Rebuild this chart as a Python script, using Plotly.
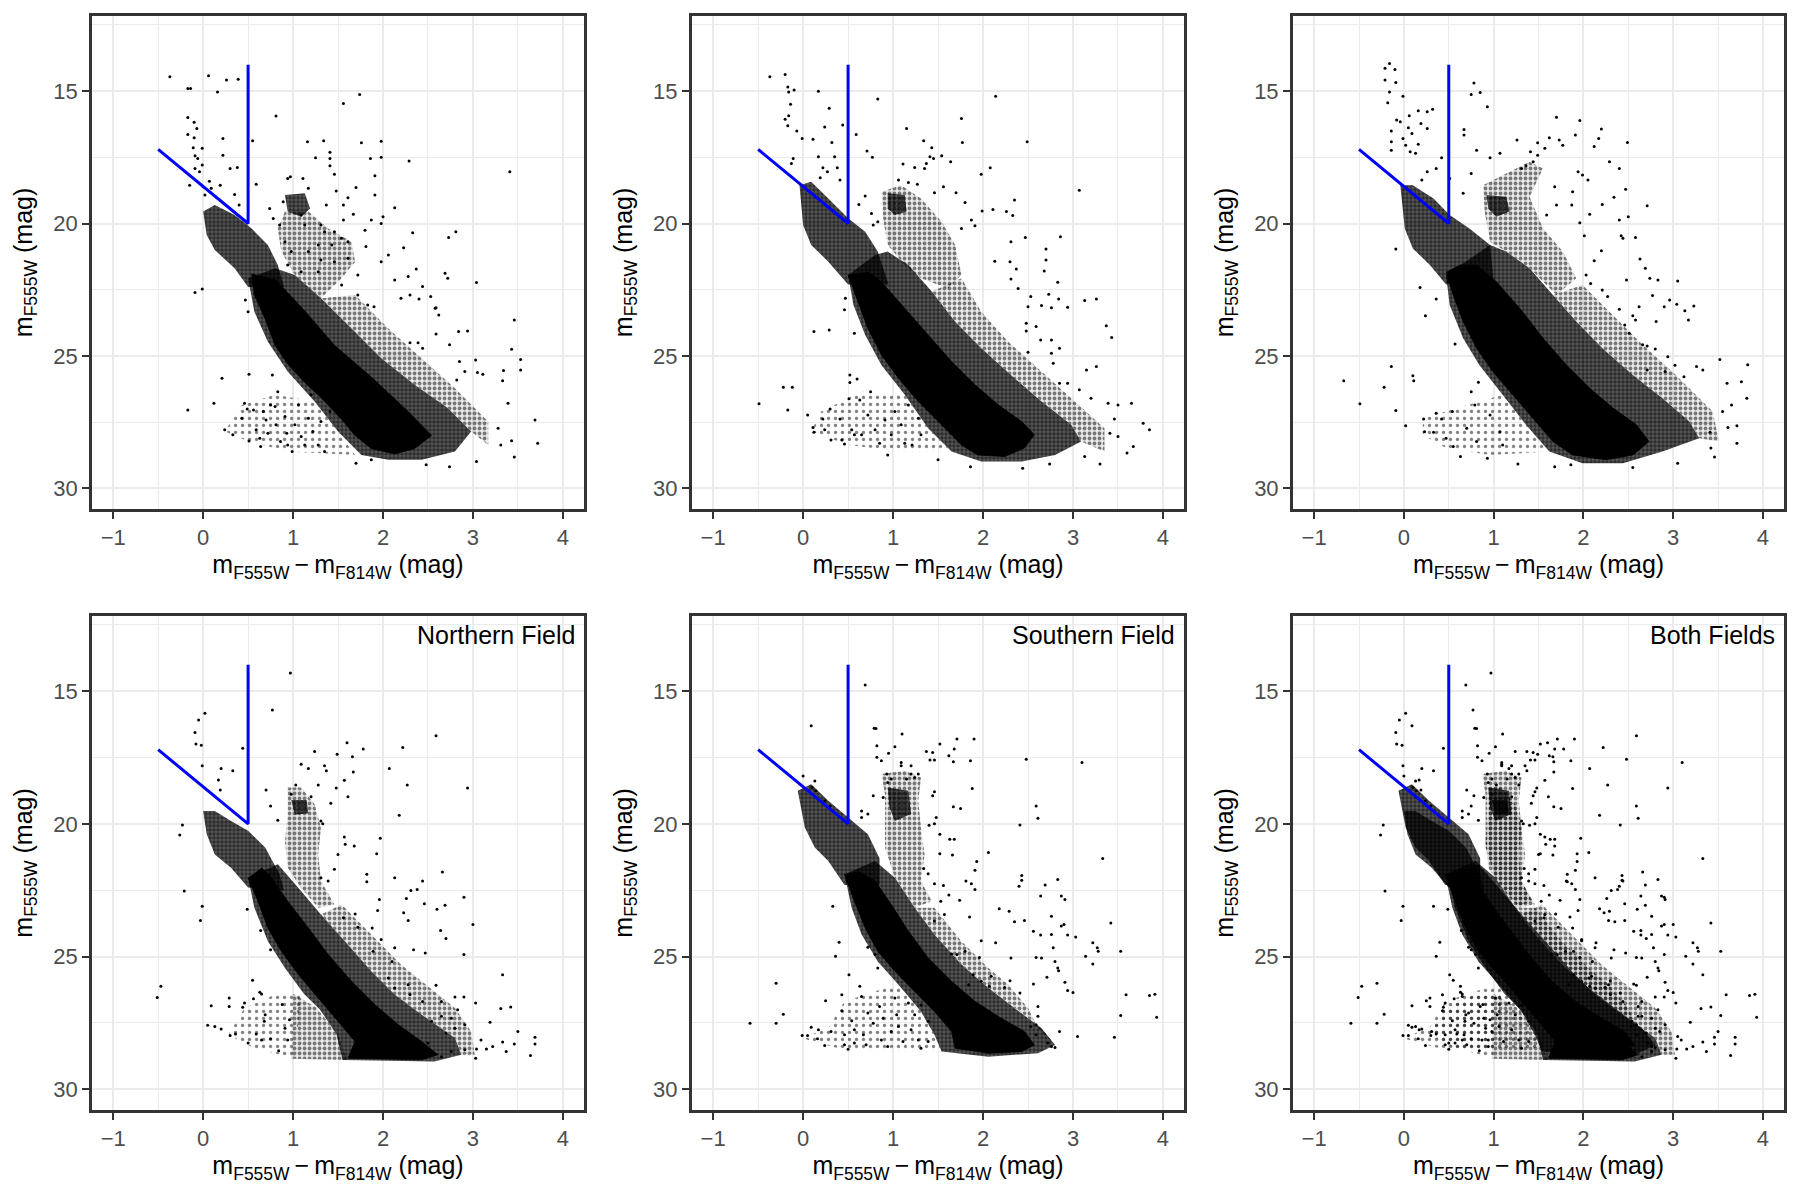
import plotly.graph_objects as go

# colour-magnitude diagrams, six panels (top row: three reductions, bottom: fields)
# dense regions are given as outlines (core = solid, mid/halo/faint = decreasing density),
# isolated stars as (colour, magnitude) pairs

BLUE_X = [-0.5, 0.5, 0.5]
BLUE_Y = [17.2, 20.0, 14.0]

LABELS = ["", "", "", "Northern Field", "Southern Field", "Both Fields"]

# ---------------- panel 1 ----------------
p1_core = [[(0.54, 21.9), (0.57, 22.7), (0.69, 23.6), (0.80, 24.6), (0.94, 25.3), (1.13, 26.0), (1.32, 26.6),
            (1.54, 27.4), (1.69, 28.0), (1.87, 28.5), (2.13, 28.7), (2.35, 28.5), (2.54, 28.0), (2.28, 27.1),
            (1.87, 25.8), (1.46, 24.6), (1.13, 23.3), (0.80, 22.1)]]
p1_mid = [[(0.0, 19.55), (0.13, 19.3), (0.35, 19.68), (0.54, 20.19), (0.72, 20.81), (0.83, 21.57), (0.9, 22.4),
           (0.5, 22.4), (0.35, 21.69), (0.13, 21.0), (0.04, 20.43)],
          [(0.5, 22.07), (0.57, 23.33), (0.72, 24.46), (0.94, 25.59), (1.24, 26.72), (1.5, 27.85), (1.76, 28.74),
           (2.06, 28.92), (2.43, 28.92), (2.8, 28.61), (2.98, 27.85), (2.72, 26.97), (2.35, 26.09), (1.98, 25.09),
           (1.65, 23.96), (1.31, 22.82), (1.02, 21.94), (0.8, 21.69)],
          [(0.91, 18.92), (1.13, 18.86), (1.19, 19.43), (1.09, 19.74), (0.94, 19.55)]]
p1_halo = [[(0.91, 19.55), (1.17, 19.55), (1.39, 20.19), (1.65, 20.69), (1.69, 21.44), (1.54, 22.07), (1.31, 22.82),
            (1.02, 21.94), (0.87, 21.06), (0.83, 20.19)],
           [(1.31, 22.82), (1.69, 22.7), (2.06, 23.96), (2.43, 25.09), (2.8, 26.22), (3.17, 27.48), (3.17, 28.36),
            (2.98, 27.85), (2.72, 26.97), (2.35, 26.09), (1.98, 25.09), (1.65, 23.96)]]
p1_faint = [[(0.43, 26.85), (0.8, 26.47), (1.24, 26.72), (1.5, 27.85), (1.69, 28.74), (0.94, 28.61), (0.51, 28.23),
             (0.24, 27.85)]]
p1_stars = [
    (-0.37, 14.46), (-0.17, 14.9), (-0.14, 14.9), (0.06, 14.42), (0.16, 15.03), (0.26, 14.58), (0.39, 14.55),
    (0.81, 15.94), (1.56, 15.47), (1.74, 15.13), (-0.17, 16.0), (-0.1, 16.18), (-0.07, 16.41), (-0.17, 16.64),
    (-0.1, 16.76), (-0.11, 17.14), (-0.01, 17.16), (-0.09, 17.44), (-0.06, 17.54), (-0.01, 17.79), (-0.09, 17.92),
    (-0.04, 18.04), (-0.15, 18.55), (0.0, 18.61), (0.07, 18.4), (0.22, 16.79), (0.22, 17.42), (0.3, 17.92),
    (0.38, 17.88), (0.35, 18.9), (0.4, 19.3), (0.55, 16.87), (0.59, 18.52), (0.19, 18.55), (0.02, 18.92),
    (0.09, 18.67), (1.16, 16.91), (1.34, 16.87), (1.41, 17.31), (1.41, 17.54), (1.41, 17.82), (1.46, 18.14),
    (1.25, 17.52), (1.76, 16.95), (1.98, 16.89), (1.98, 17.5), (1.86, 17.54), (2.29, 17.64), (1.91, 18.2),
    (1.91, 18.92), (1.7, 18.64), (1.48, 18.77), (1.61, 19.03), (1.56, 19.3), (1.37, 19.3), (1.67, 19.65),
    (1.56, 19.87), (2.13, 19.4), (2.0, 19.74), (1.87, 19.87), (1.98, 20.0), (1.8, 20.25), (2.33, 20.35),
    (2.81, 20.31), (2.73, 20.53), (3.41, 18.04), (2.23, 20.91), (2.06, 21.19), (2.37, 21.72), (2.28, 22.0),
    (2.69, 21.88), (2.72, 22.07), (3.04, 22.23), (2.13, 22.13), (2.44, 22.38), (2.2, 22.82), (2.3, 22.7),
    (2.4, 22.85), (2.53, 22.76), (2.58, 23.2), (2.59, 23.18), (2.62, 23.45), (3.46, 23.64), (2.84, 24.08),
    (2.94, 24.06), (2.3, 24.5), (2.39, 24.5), (2.44, 24.71), (2.74, 24.58), (2.59, 24.17), (3.43, 24.75),
    (3.53, 25.13), (3.53, 25.53), (3.34, 25.55), (3.33, 25.94), (3.03, 25.15), (2.85, 25.21), (2.91, 25.59),
    (3.05, 25.63), (3.11, 25.69), (2.82, 25.91), (3.39, 26.79), (3.69, 27.42), (3.72, 28.3), (3.46, 28.82),
    (3.43, 28.2), (3.31, 28.36), (3.28, 27.73), (3.04, 28.99), (2.74, 29.18), (2.48, 29.11), (1.7, 29.05),
    (1.87, 28.92), (-0.09, 22.6), (-0.01, 22.47), (-0.17, 27.04), (0.12, 26.79), (0.21, 25.84), (0.51, 25.69),
    (0.47, 22.89), (0.5, 23.33), (0.77, 25.72), (0.24, 27.79), (0.33, 27.98), (0.43, 27.35), (0.46, 26.79),
    (0.49, 27.0), (0.51, 28.21), (0.56, 27.04), (0.59, 27.79), (0.63, 28.11), (0.64, 28.42), (0.67, 27.1),
    (0.7, 27.42), (0.72, 27.92), (0.8, 26.91), (0.81, 27.6), (0.86, 28.23), (0.91, 27.29), (0.93, 27.92),
    (0.94, 28.36), (0.99, 28.61), (1.02, 27.6), (1.06, 26.85), (1.09, 28.04), (1.13, 28.36), (1.17, 27.35),
    (1.2, 26.47), (1.22, 27.85), (1.28, 28.36), (1.31, 27.48), (1.35, 28.61), (1.41, 27.1), (0.83, 26.35),
    (0.75, 26.85), (0.94, 18.3), (0.97, 18.23), (1.11, 18.3), (1.17, 18.67), (0.89, 19.18), (1.09, 19.68),
    (1.13, 20.06), (1.31, 20.06), (1.35, 20.31), (1.46, 20.31), (1.54, 20.56), (1.61, 20.69), (1.43, 20.81),
    (1.28, 20.81), (1.17, 21.06), (0.98, 21.06), (0.94, 21.57), (1.09, 21.82), (1.28, 21.82), (1.31, 21.38),
    (1.46, 21.44), (1.61, 21.31), (1.72, 21.94), (1.54, 22.32), (1.72, 22.7), (1.83, 23.08), (1.9, 23.14),
    (1.98, 21.44), (1.81, 20.87), (0.85, 20.06), (0.91, 20.69), (0.74, 19.43), (0.78, 19.81)]

# ---------------- panel 2 ----------------
p2_core = [[(0.50, 21.94), (0.61, 22.95), (0.72, 23.96), (0.87, 24.96), (1.06, 25.84), (1.28, 26.72), (1.54, 27.6),
            (1.76, 28.36), (1.94, 28.74), (2.24, 28.8), (2.46, 28.48), (2.57, 27.98), (2.43, 27.48), (2.17, 26.85),
            (1.91, 26.09), (1.65, 25.21), (1.39, 24.21), (1.13, 23.2), (0.87, 22.2), (0.72, 21.82)]]
p2_mid = [[(-0.04, 18.55), (0.09, 18.42), (0.28, 19.05), (0.5, 19.8), (0.69, 20.31), (0.83, 21.06), (0.95, 22.3),
           (0.5, 22.3), (0.28, 21.44), (0.09, 20.81), (0.0, 20.06)],
          [(0.5, 21.94), (0.56, 23.08), (0.69, 24.21), (0.87, 25.34), (1.13, 26.47), (1.39, 27.73), (1.65, 28.61),
           (1.98, 28.99), (2.43, 28.99), (2.8, 28.74), (3.09, 28.23), (2.98, 27.6), (2.65, 26.72), (2.31, 25.72),
           (1.98, 24.71), (1.69, 23.71), (1.43, 22.57), (1.17, 21.57), (0.94, 21.06), (0.8, 21.19)],
          [(0.94, 18.86), (1.13, 18.92), (1.15, 19.55), (1.02, 19.68), (0.94, 19.43)]]
p2_halo = [[(0.87, 18.8), (1.09, 18.55), (1.31, 19.05), (1.54, 19.93), (1.69, 20.81), (1.76, 21.94), (1.61, 22.45),
            (1.31, 22.07), (1.13, 21.57), (0.94, 20.81), (0.89, 19.8)],
           [(1.43, 22.57), (1.76, 22.07), (1.98, 23.33), (2.28, 24.46), (2.65, 25.59), (2.98, 26.6), (3.35, 27.73),
            (3.35, 28.61), (3.09, 28.23), (2.98, 27.6), (2.65, 26.72), (2.31, 25.72), (1.98, 24.71), (1.69, 23.71)]]
p2_faint = [[(0.2, 27.1), (0.65, 26.35), (1.13, 26.47), (1.39, 27.73), (1.65, 28.61), (1.09, 28.61), (0.5, 28.36),
             (0.09, 27.85)]]
p2_stars = [
    (-0.37, 14.46), (-0.2, 14.37), (-0.17, 14.84), (-0.1, 14.96), (-0.16, 15.03), (0.17, 15.0), (0.29, 15.65),
    (0.83, 15.3), (-0.14, 15.5), (-0.16, 15.93), (-0.2, 16.06), (-0.17, 16.31), (0.24, 16.35), (0.44, 16.28),
    (0.59, 16.64), (-0.07, 16.51), (-0.01, 16.79), (0.11, 16.82), (0.32, 16.94), (0.17, 17.48), (0.35, 17.48),
    (-0.11, 17.54), (-0.13, 17.73), (0.38, 17.89), (0.22, 17.89), (0.27, 18.04), (0.19, 18.27), (0.41, 18.36),
    (0.71, 17.26), (0.77, 17.5), (1.15, 16.41), (1.34, 16.87), (1.43, 17.14), (1.41, 17.48), (1.45, 17.54),
    (1.37, 17.73), (1.35, 17.92), (1.54, 17.44), (1.64, 17.67), (1.76, 16.03), (1.77, 16.94), (2.14, 15.19),
    (2.49, 16.91), (1.98, 18.14), (2.08, 17.89), (1.11, 17.75), (1.24, 17.88), (1.06, 18.36), (1.17, 18.45),
    (1.27, 18.52), (1.56, 18.61), (1.7, 18.84), (1.46, 18.84), (3.07, 18.74), (2.35, 19.11), (2.26, 19.55),
    (2.33, 19.7), (1.99, 19.53), (2.11, 19.47), (1.8, 19.21), (1.87, 19.87), (1.91, 20.08), (1.76, 20.19),
    (2.86, 20.5), (2.47, 20.53), (2.31, 20.69), (0.62, 19.28), (0.69, 18.96), (0.76, 19.62), (0.78, 20.06),
    (0.83, 19.93), (2.7, 20.96), (2.7, 21.38), (2.68, 21.79), (2.13, 21.42), (2.3, 21.44), (2.37, 21.72),
    (2.31, 22.09), (2.83, 22.22), (2.73, 22.67), (2.84, 22.85), (2.94, 23.16), (3.13, 22.91), (3.26, 22.85),
    (2.53, 22.76), (2.65, 23.1), (2.76, 23.18), (2.5, 23.14), (2.39, 22.45), (2.48, 23.77), (2.59, 23.89),
    (2.48, 24.06), (3.37, 23.86), (3.43, 24.3), (2.64, 24.4), (2.76, 24.4), (2.85, 24.71), (2.76, 24.9),
    (2.5, 24.86), (2.78, 25.28), (3.15, 25.53), (3.26, 25.4), (2.85, 26.03), (2.94, 26.03), (3.07, 26.28),
    (3.2, 26.6), (3.39, 26.79), (3.5, 26.85), (3.65, 26.79), (3.46, 27.38), (3.41, 27.92), (3.5, 28.04),
    (3.67, 28.42), (3.78, 27.54), (3.85, 27.79), (3.6, 28.67), (3.3, 29.08), (3.13, 28.8), (2.74, 29.08),
    (2.44, 29.24), (1.86, 29.18), (1.5, 28.92), (-0.49, 26.81), (-0.22, 26.18), (-0.12, 26.18), (-0.17, 27.04),
    (0.12, 24.08), (0.29, 24.02), (0.46, 23.26), (0.57, 24.14), (0.47, 22.82), (0.05, 27.23), (0.11, 27.7),
    (0.12, 27.88), (0.52, 25.72), (0.6, 25.87), (0.52, 26.0), (0.22, 27.38), (0.24, 27.79), (0.3, 27.0),
    (0.31, 28.17), (0.41, 27.38), (0.43, 28.17), (0.46, 28.33), (0.51, 26.62), (0.54, 27.79), (0.57, 27.98),
    (0.63, 26.66), (0.65, 27.98), (0.72, 27.23), (0.75, 26.35), (0.8, 27.79), (0.85, 28.3), (0.91, 27.42),
    (0.94, 28.74), (0.98, 27.98), (1.02, 27.1), (1.09, 27.6), (1.13, 28.3), (1.17, 26.85), (1.21, 28.36),
    (1.28, 27.35), (1.31, 27.98)]

# ---------------- panel 3 ----------------
p3_core = [[(0.47, 21.83), (0.55, 22.7), (0.66, 23.7), (0.81, 24.71), (0.99, 25.59), (1.21, 26.47), (1.44, 27.35),
            (1.66, 28.23), (1.88, 28.74), (2.25, 28.92), (2.55, 28.74), (2.73, 28.23), (2.59, 27.6), (2.33, 26.97),
            (2.07, 26.22), (1.81, 25.34), (1.55, 24.33), (1.29, 23.2), (1.03, 22.2), (0.81, 21.57), (0.62, 21.57)]]
p3_mid = [[(-0.04, 18.55), (0.1, 18.55), (0.33, 19.05), (0.51, 19.68), (0.73, 20.19), (0.96, 20.81), (1.0, 22.2),
           (0.47, 22.3), (0.29, 21.57), (0.1, 20.94), (0.01, 20.19)],
          [(0.47, 21.94), (0.51, 23.08), (0.66, 24.33), (0.84, 25.34), (1.1, 26.47), (1.36, 27.6), (1.62, 28.61),
           (1.99, 29.05), (2.44, 29.05), (2.88, 28.61), (3.29, 28.11), (3.18, 27.48), (2.88, 26.6), (2.55, 25.72),
           (2.21, 24.71), (1.92, 23.7), (1.66, 22.7), (1.4, 21.69), (1.14, 21.06), (0.96, 20.81)],
          [(0.92, 18.92), (1.14, 18.99), (1.18, 19.55), (1.03, 19.74), (0.94, 19.43)]]
p3_halo = [[(0.88, 18.55), (1.1, 18.17), (1.4, 17.67), (1.55, 17.92), (1.4, 18.99), (1.55, 20.19), (1.77, 21.06),
            (1.92, 22.07), (1.7, 22.7), (1.4, 21.69), (1.14, 21.06), (0.96, 20.69), (0.9, 19.55)],
           [(1.66, 22.7), (1.99, 22.32), (2.29, 23.33), (2.66, 24.58), (3.03, 25.72), (3.44, 27.1), (3.51, 28.23),
            (3.29, 28.11), (3.18, 27.48), (2.88, 26.6), (2.55, 25.72), (2.21, 24.71), (1.92, 23.7)]]
p3_faint = [[(0.21, 27.35), (0.59, 26.97), (1.1, 26.47), (1.36, 27.6), (1.62, 28.61), (0.96, 28.74), (0.47, 28.48),
             (0.21, 27.98)]]
p3_stars = [
    (-0.16, 13.96), (-0.21, 14.14), (-0.1, 14.18), (-0.21, 14.58), (-0.09, 14.67), (-0.16, 15.03), (-0.18, 15.44),
    (-0.01, 15.19), (0.78, 14.69), (0.75, 15.13), (0.85, 15.05), (0.93, 15.59), (0.16, 15.74), (0.26, 15.78),
    (0.32, 15.68), (0.06, 15.93), (-0.08, 16.09), (-0.14, 16.51), (-0.04, 16.16), (0.05, 16.38), (0.19, 16.22),
    (0.26, 16.41), (0.09, 16.6), (-0.01, 16.79), (0.02, 17.04), (0.16, 17.01), (0.07, 17.29), (0.13, 17.35),
    (-0.14, 16.91), (-0.14, 17.23), (0.67, 16.45), (0.67, 16.66), (0.81, 17.23), (0.42, 17.52), (0.51, 18.3),
    (0.36, 17.92), (0.26, 18.04), (0.2, 18.36), (0.75, 18.11), (0.66, 18.86), (-0.09, 20.96), (0.18, 22.42),
    (0.36, 22.85), (0.24, 23.48), (0.57, 24.55), (-0.14, 25.4), (-0.22, 26.18), (-0.67, 25.94), (-0.49, 26.81),
    (-0.09, 27.06), (0.1, 25.75), (0.11, 25.94), (0.02, 27.64), (0.23, 27.86), (0.33, 27.88), (0.22, 27.38),
    (0.36, 27.16), (0.42, 27.38), (0.54, 27.1), (0.47, 28.11), (0.55, 28.42), (0.63, 28.8), (0.7, 27.73),
    (0.75, 26.35), (0.83, 25.99), (0.79, 26.85), (0.81, 28.23), (0.93, 28.86), (0.96, 27.23), (1.07, 27.86),
    (1.1, 28.36), (1.27, 29.08), (1.68, 29.18), (1.86, 29.11), (2.55, 29.21), (3.05, 29.05), (3.46, 28.82),
    (3.42, 28.48), (3.41, 27.88), (3.71, 28.3), (3.61, 27.7), (3.55, 27.1), (3.71, 27.64), (3.65, 26.85),
    (3.82, 26.6), (3.76, 25.97), (3.83, 25.33), (3.6, 26.03), (3.52, 25.13), (3.33, 25.53), (3.26, 25.4),
    (3.12, 25.79), (3.02, 25.35), (2.94, 25.03), (2.8, 24.74), (2.71, 25.53), (2.91, 25.59), (2.81, 23.7),
    (3.17, 23.64), (3.13, 23.29), (3.23, 23.11), (3.04, 23.05), (2.96, 22.89), (2.9, 23.14), (2.77, 22.72),
    (3.05, 22.17), (2.83, 22.13), (2.74, 22.07), (2.69, 21.69), (2.63, 21.34), (2.58, 20.53), (2.48, 22.13),
    (2.55, 23.48), (2.62, 23.14), (2.58, 23.64), (2.51, 24.14), (2.46, 23.83), (2.4, 23.24), (2.71, 19.33),
    (2.5, 19.74), (2.4, 19.87), (2.47, 18.71), (2.34, 19.01), (2.4, 17.92), (2.29, 17.67), (2.49, 16.94),
    (2.2, 16.43), (2.17, 16.79), (2.12, 17.09), (1.96, 16.11), (1.91, 16.66), (1.7, 15.99), (1.73, 16.85),
    (1.77, 17.04), (1.62, 16.76), (1.49, 16.95), (1.26, 16.85), (1.57, 17.16), (1.41, 17.29), (1.49, 17.42),
    (1.44, 17.67), (1.36, 17.82), (1.31, 17.92), (1.07, 17.35), (0.96, 17.52), (1.94, 18.04), (1.99, 18.17),
    (2.05, 18.36), (2.21, 19.28), (1.87, 19.3), (1.88, 18.8), (1.68, 18.61), (1.7, 19.3), (1.59, 19.68),
    (1.96, 19.97), (2.07, 19.65), (2.01, 20.46), (2.2, 21.03), (2.12, 21.41), (2.42, 20.46), (2.44, 20.56),
    (2.03, 21.94), (2.08, 22.26), (2.21, 22.51), (2.27, 22.76), (2.66, 24.58), (2.71, 24.62)]

# ---------------- panel 4: Northern Field ----------------
p4_core = [[(0.5, 22.03), (0.61, 22.91), (0.72, 23.92), (0.87, 24.8), (1.06, 25.68), (1.28, 26.56), (1.5, 27.44),
            (1.69, 28.2), (1.61, 28.83), (2.43, 28.89), (2.61, 28.7), (2.43, 28.2), (2.17, 27.57), (1.91, 26.81),
            (1.65, 25.93), (1.39, 24.92), (1.17, 23.92), (0.94, 22.91), (0.76, 22.03), (0.65, 21.65)]]
p4_mid = [[(0.0, 19.51), (0.13, 19.51), (0.31, 19.89), (0.5, 20.26), (0.69, 20.89), (0.85, 21.9), (0.9, 22.5),
           (0.5, 22.4), (0.31, 21.65), (0.13, 21.15), (0.04, 20.39)],
          [(0.5, 22.03), (0.57, 23.16), (0.72, 24.42), (0.91, 25.43), (1.12, 26.4), (1.3, 27.0), (1.48, 27.9),
           (1.55, 28.9), (2.57, 28.95), (2.87, 28.7), (2.8, 28.07), (2.43, 27.19), (2.13, 26.43), (1.87, 25.55),
           (1.61, 24.55), (1.31, 23.41), (1.06, 22.41), (0.83, 21.52)],
          [(0.98, 19.1), (1.15, 19.1), (1.17, 19.6), (1.02, 19.65)]]
p4_halo = [[(0.94, 18.63), (1.09, 18.63), (1.24, 19.26), (1.31, 20.14), (1.28, 21.15), (1.31, 22.15), (1.46, 23.04),
            (1.28, 23.16), (1.09, 22.41), (0.94, 21.65), (0.91, 20.64), (0.94, 19.63)],
           [(1.31, 23.41), (1.54, 23.04), (1.87, 24.17), (2.2, 25.3), (2.43, 25.93), (2.8, 26.94), (2.98, 27.82),
            (3.02, 28.7), (2.87, 28.7), (2.8, 28.07), (2.43, 27.19), (2.13, 26.43), (1.87, 25.55), (1.61, 24.55)],
           [(1.0, 26.4), (1.25, 26.9), (1.5, 27.9), (1.6, 28.9), (0.98, 28.85), (1.0, 27.2)]]
p4_faint = [[(0.46, 26.94), (0.8, 26.43), (1.09, 26.43), (1.02, 28.83), (0.57, 28.45), (0.28, 27.95)]]
p4_stars = [
    (0.97, 14.31), (0.77, 15.71), (0.02, 15.83), (-0.05, 16.08), (-0.09, 16.55), (-0.08, 16.99), (-0.02, 17.03),
    (0.44, 17.15), (-0.01, 17.81), (0.2, 17.91), (0.33, 18.0), (0.17, 18.34), (0.19, 18.72), (0.7, 18.72),
    (0.75, 19.32), (0.83, 19.86), (2.59, 16.68), (2.22, 17.12), (1.78, 17.18), (1.6, 16.94), (1.49, 17.37),
    (1.66, 17.47), (1.24, 17.27), (2.07, 17.91), (2.27, 18.53), (2.94, 18.65), (2.18, 19.67), (1.67, 18.04),
    (1.57, 18.35), (1.48, 18.65), (1.61, 18.98), (1.42, 19.22), (1.09, 17.75), (1.17, 17.91), (1.35, 17.81),
    (1.37, 18.0), (1.28, 18.53), (1.03, 18.53), (0.98, 18.88), (1.2, 18.98), (1.31, 19.89), (1.33, 19.99),
    (1.97, 20.54), (1.57, 20.49), (1.68, 20.83), (1.58, 20.77), (1.93, 21.12), (1.5, 21.15), (1.46, 21.71),
    (1.31, 22.03), (1.39, 22.15), (1.82, 21.9), (1.82, 22.18), (2.13, 22.03), (2.66, 21.81), (2.44, 22.15),
    (2.31, 22.51), (2.38, 22.47), (2.26, 22.81), (1.96, 22.85), (2.9, 22.76), (2.6, 23.22), (2.69, 23.06),
    (2.23, 23.35), (2.28, 23.64), (2.46, 23.01), (1.94, 23.26), (1.69, 23.39), (1.56, 23.54), (1.88, 23.92),
    (1.72, 23.89), (2.64, 24.02), (2.7, 24.32), (3.0, 23.79), (2.9, 24.92), (2.47, 24.86), (2.34, 24.74),
    (2.13, 24.67), (1.98, 24.36), (1.89, 24.8), (2.1, 25.18), (3.33, 25.68), (3.03, 26.75), (3.31, 26.96),
    (3.42, 26.9), (3.5, 27.82), (3.46, 28.29), (3.69, 28.04), (3.69, 28.29), (3.64, 28.73), (3.33, 28.22),
    (3.37, 28.58), (3.22, 28.39), (3.15, 28.48), (3.04, 28.48), (3.03, 28.83), (3.09, 28.14), (3.19, 27.47),
    (2.59, 26.08), (2.65, 26.69), (2.8, 26.52), (2.9, 26.52), (2.83, 27.0), (2.76, 27.32), (2.91, 27.57),
    (2.8, 27.7), (2.7, 27.88), (2.65, 27.25), (2.54, 27.44), (2.44, 26.69), (2.3, 26.43), (2.28, 26.06),
    (2.13, 26.18), (2.06, 25.81), (2.5, 28.26), (2.65, 28.77), (2.76, 28.58), (2.91, 28.51), (-0.23, 20.04),
    (-0.26, 20.42), (-0.21, 22.53), (-0.01, 23.1), (-0.03, 23.64), (0.49, 23.22), (0.64, 24.02), (0.75, 24.74),
    (-0.47, 26.12), (-0.51, 26.54), (0.09, 26.85), (0.05, 27.59), (0.13, 27.63), (0.2, 27.73), (0.29, 26.56),
    (0.29, 26.88), (0.3, 27.97), (0.36, 27.92), (0.44, 26.91), (0.46, 26.75), (0.56, 26.59), (0.55, 25.89),
    (0.63, 26.34), (0.65, 26.41), (0.68, 27.44), (0.69, 27.19), (0.5, 28.26), (0.59, 27.92), (0.65, 28.14),
    (0.75, 28.1), (0.84, 28.55), (0.88, 26.81), (0.91, 27.7), (0.94, 28.14), (0.96, 27.38)]

# ---------------- panel 5: Southern Field ----------------
p5_core = [[(0.46, 21.9), (0.57, 22.91), (0.69, 23.92), (0.83, 24.8), (1.02, 25.55), (1.24, 26.31), (1.46, 27.07),
            (1.65, 27.82), (1.69, 28.45), (2.06, 28.64), (2.43, 28.58), (2.57, 28.33), (2.46, 27.82), (2.2, 27.32),
            (1.91, 26.69), (1.65, 25.93), (1.39, 25.05), (1.17, 24.04), (0.98, 23.04), (0.8, 22.15), (0.61, 21.78)]]
p5_mid = [[(-0.06, 18.75), (0.09, 18.5), (0.28, 19.13), (0.5, 19.76), (0.72, 20.39), (0.85, 21.3), (0.85, 22.3),
           (0.46, 22.3), (0.28, 21.4), (0.13, 20.89), (0.02, 20.14)],
          [(0.46, 21.9), (0.54, 23.16), (0.65, 24.17), (0.83, 25.18), (1.06, 26.06), (1.31, 27.07), (1.46, 27.95),
           (1.54, 28.58), (2.06, 28.77), (2.61, 28.64), (2.8, 28.33), (2.65, 27.7), (2.35, 26.94), (2.06, 26.18),
           (1.76, 25.3), (1.46, 24.17), (1.24, 23.16), (1.02, 22.03), (0.8, 21.4)],
          [(0.94, 18.63), (1.17, 18.75), (1.2, 19.63), (1.02, 19.89), (0.96, 19.38)]]
p5_halo = [[(0.87, 18.12), (1.13, 18.0), (1.31, 18.25), (1.28, 19.13), (1.31, 20.14), (1.35, 21.15), (1.31, 22.15),
            (1.43, 22.91), (1.24, 23.16), (1.02, 22.03), (0.91, 20.89), (0.91, 19.89), (0.91, 18.88)],
           [(1.24, 23.16), (1.46, 23.16), (1.76, 24.42), (2.06, 25.43), (2.28, 26.06), (2.5, 26.94), (2.61, 27.7),
            (2.8, 28.33), (2.65, 27.7), (2.35, 26.94), (2.06, 26.18), (1.76, 25.3), (1.46, 24.17)]]
p5_faint = [[(0.28, 27.7), (0.46, 26.69), (0.8, 26.31), (1.06, 26.06), (1.31, 27.07), (1.46, 27.95), (1.54, 28.58),
             (0.94, 28.58), (0.39, 28.45), (-0.02, 28.07)]]
p5_stars = [
    (0.69, 14.76), (0.09, 16.3), (0.79, 16.39), (0.81, 16.4), (1.1, 16.61), (0.82, 17.05), (1.02, 17.09),
    (0.95, 17.34), (0.82, 17.49), (0.87, 17.62), (1.09, 17.68), (1.37, 17.27), (1.44, 17.31), (1.41, 17.59),
    (1.46, 17.59), (1.52, 16.99), (1.62, 17.43), (1.67, 17.66), (1.71, 16.8), (1.68, 17.18), (1.9, 16.8),
    (1.86, 17.62), (2.48, 17.56), (3.1, 17.68), (1.88, 18.66), (1.67, 19.35), (1.75, 19.42), (2.59, 19.32),
    (2.61, 19.79), (2.41, 20.04), (1.46, 18.79), (1.44, 18.94), (1.48, 19.76), (1.46, 19.99), (1.4, 20.05),
    (1.52, 20.39), (1.63, 20.58), (1.68, 20.58), (1.52, 21.12), (1.66, 21.17), (2.06, 21.08), (1.93, 21.42),
    (1.34, 21.68), (1.39, 21.88), (1.46, 22.25), (1.56, 22.32), (1.81, 22.15), (1.87, 22.25), (1.91, 22.47),
    (1.91, 21.75), (1.62, 22.68), (1.74, 22.88), (1.53, 22.91), (3.33, 21.3), (2.43, 21.94), (2.43, 22.12),
    (2.4, 22.35), (2.83, 22.09), (2.69, 22.3), (2.64, 22.72), (2.87, 22.72), (2.91, 22.85), (2.18, 23.2),
    (2.29, 23.29), (1.85, 23.51), (1.57, 23.41), (1.46, 23.66), (2.46, 23.64), (2.35, 23.69), (2.76, 23.48),
    (2.9, 23.79), (2.87, 23.85), (2.56, 24.04), (2.64, 24.19), (2.76, 24.17), (2.94, 24.19), (3.03, 24.26),
    (3.42, 23.73), (1.98, 24.4), (2.14, 24.48), (2.78, 24.67), (3.22, 24.48), (3.27, 24.67), (3.28, 24.8),
    (3.53, 24.8), (3.14, 24.99), (3.22, 25.28), (2.59, 25.03), (2.65, 25.05), (2.31, 25.05), (1.96, 25.03),
    (2.8, 25.18), (2.83, 25.43), (2.84, 25.53), (2.71, 25.78), (2.91, 25.97), (2.94, 26.28), (3.0, 26.35),
    (2.56, 26.03), (2.41, 26.37), (2.3, 25.91), (2.24, 26.16), (3.59, 26.44), (3.85, 26.47), (3.91, 26.42),
    (3.93, 27.29), (3.53, 27.22), (3.46, 28.04), (3.05, 28.01), (2.85, 27.82), (2.8, 28.43), (2.61, 26.88),
    (2.61, 27.25), (2.59, 27.57), (2.53, 27.63), (2.59, 27.95), (2.72, 28.26), (2.76, 28.39), (2.09, 25.74),
    (2.07, 26.12), (1.98, 25.93), (1.89, 25.68), (1.8, 24.8), (1.71, 24.92), (1.65, 24.9), (1.84, 26.06),
    (-0.59, 27.51), (-0.3, 26.0), (-0.3, 27.51), (-0.22, 27.17), (-0.01, 27.97), (0.05, 27.97), (0.09, 27.66),
    (0.17, 27.76), (0.16, 28.1), (0.25, 26.66), (0.24, 28.35), (0.31, 27.82), (0.33, 23.1), (0.4, 24.46),
    (0.36, 24.99), (0.51, 25.68), (0.43, 26.44), (0.43, 27.04), (0.46, 27.95), (0.46, 28.32), (0.5, 28.49),
    (0.57, 27.76), (0.57, 28.26), (0.54, 27.42), (0.63, 26.12), (0.65, 26.5), (0.67, 27.95), (0.7, 28.32),
    (0.72, 27.13), (0.78, 27.51), (0.72, 24.65), (0.8, 24.92), (0.83, 25.43), (0.85, 26.88), (0.87, 28.14),
    (0.89, 27.32), (0.94, 28.39), (0.98, 27.82), (1.02, 26.56), (1.04, 27.19), (1.06, 27.63), (1.11, 28.2),
    (1.17, 26.75), (1.2, 27.76), (1.24, 27.19), (1.28, 28.14), (1.31, 28.45), (1.39, 27.44), (1.39, 28.2),
    (1.31, 26.82), (0.0, 18.19), (0.13, 18.38), (0.1, 18.63), (0.14, 18.75), (0.24, 19.13), (0.3, 19.32),
    (0.65, 19.76), (0.72, 19.63), (0.78, 18.94), (0.65, 19.51), (0.93, 18.12), (0.94, 18.44), (0.98, 18.31),
    (1.15, 18.31), (1.2, 18.12), (1.24, 18.25), (1.28, 18.12), (1.09, 17.81), (1.2, 17.81), (0.89, 19.0)]

# panel 6 combines both fields
p6_core = p4_core + p5_core
p6_mid = p4_mid + p5_mid
p6_halo = p4_halo + p5_halo
p6_faint = p4_faint + p5_faint
p6_stars = p4_stars + p5_stars

panels = [
    (p1_core, p1_mid, p1_halo, p1_faint, p1_stars),
    (p2_core, p2_mid, p2_halo, p2_faint, p2_stars),
    (p3_core, p3_mid, p3_halo, p3_faint, p3_stars),
    (p4_core, p4_mid, p4_halo, p4_faint, p4_stars),
    (p5_core, p5_mid, p5_halo, p5_faint, p5_stars),
    (p6_core, p6_mid, p6_halo, p6_faint, p6_stars),
]

# fill styles for the density layers (faint -> core)
layer_style = {
    "faint": dict(fillcolor="rgba(0,0,0,0)",
                  fillpattern=dict(shape=".", fgcolor="black", bgcolor="rgba(0,0,0,0)", size=7, solidity=0.18)),
    "halo": dict(fillcolor="rgba(0,0,0,0)",
                 fillpattern=dict(shape=".", fgcolor="black", bgcolor="rgba(0,0,0,0.08)", size=5, solidity=0.45)),
    "mid": dict(fillcolor="rgba(0,0,0,0)",
                fillpattern=dict(shape=".", fgcolor="black", bgcolor="rgba(0,0,0,0.65)", size=4, solidity=0.6)),
    "core": dict(fillcolor="black"),
}

# page body has an 8px margin, domains are shifted to compensate
col_dom = [[0.0467, 0.3200], [0.3800, 0.6534], [0.7139, 0.9867]]
row_dom = [[0.5825, 0.9934], [0.0817, 0.4934]]

FONT = "Liberation Sans, Arial, Helvetica, sans-serif"
fig = go.Figure()

for i, (core, mid, halo, faint, stars) in enumerate(panels):
    n = i + 1
    xa = "x" if n == 1 else "x%d" % n
    ya = "y" if n == 1 else "y%d" % n

    for name, polys in (("faint", faint), ("halo", halo), ("mid", mid), ("core", core)):
        for poly in polys:
            fig.add_trace(go.Scatter(x=[p[0] for p in poly], y=[p[1] for p in poly], xaxis=xa, yaxis=ya,
                                     mode="lines", fill="toself", hoverinfo="skip",
                                     line=dict(width=0.8 if name == "core" else 0, color="black"),
                                     **layer_style[name]))
    fig.add_trace(go.Scatter(x=[s[0] for s in stars], y=[s[1] for s in stars], xaxis=xa, yaxis=ya,
                             mode="markers", marker=dict(size=3, color="black", line=dict(width=0))))
    fig.add_trace(go.Scatter(x=BLUE_X, y=BLUE_Y, xaxis=xa, yaxis=ya, mode="lines",
                             line=dict(color="blue", width=3)))

    r, c = divmod(i, 3)
    axis_common = dict(showline=True, mirror=True, linecolor="#333333", linewidth=3,
                       ticks="outside", ticklen=7, tickwidth=2, tickcolor="#333333",
                       tickfont=dict(family=FONT, size=22, color="#4d4d4d"),
                       showgrid=True, gridcolor="#ebebeb", gridwidth=1.6, zeroline=False)
    fig.update_layout(**{
        ("xaxis" if n == 1 else "xaxis%d" % n): dict(
            axis_common, domain=col_dom[c], anchor=ya, range=[-1.235, 4.235], dtick=1, tick0=0,
            minor=dict(dtick=0.5, tick0=0, showgrid=True, gridcolor="#ebebeb", gridwidth=0.8),
            title=dict(text="m<sub>F555W</sub>\u2009\u2212\u2009m<sub>F814W</sub> (mag)",
                       font=dict(family=FONT, size=25, color="black"), standoff=4)),
        ("yaxis" if n == 1 else "yaxis%d" % n): dict(
            axis_common, domain=row_dom[r], anchor=xa, range=[30.78, 12.16], dtick=5, tick0=0,
            minor=dict(dtick=2.5, tick0=0, showgrid=True, gridcolor="#ebebeb", gridwidth=0.8),
            title=dict(text="m<sub>F555W</sub> (mag)",
                       font=dict(family=FONT, size=25, color="black"), standoff=14)),
    })
    if LABELS[i]:
        fig.add_annotation(text=LABELS[i], xref=xa + " domain", yref=ya + " domain", x=0.985, y=0.962,
                           xanchor="right", yanchor="middle", showarrow=False,
                           font=dict(family=FONT, size=25, color="black"))

fig.update_layout(width=1800, height=1200, showlegend=False, plot_bgcolor="white", paper_bgcolor="white",
                  margin=dict(l=0, r=0, t=0, b=0))
fig.write_html("out.html")
